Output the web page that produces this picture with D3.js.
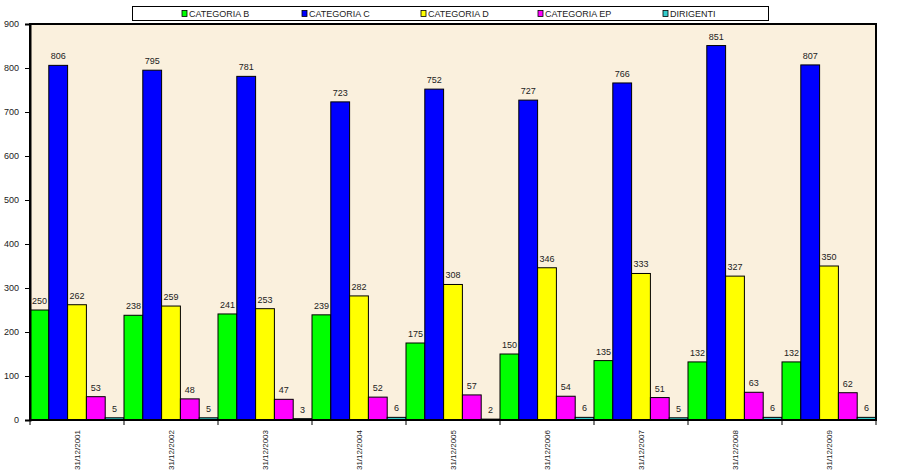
<!DOCTYPE html>
<html><head><meta charset="utf-8">
<script src="https://cdn.jsdelivr.net/npm/d3@7"></script>
<style>body{margin:0;background:#fff}svg{display:block;font-family:"Liberation Sans",Arial,sans-serif}</style>
</head><body><svg id="c" width="898" height="473"></svg>
<script>
const categories = ["31/12/2001","31/12/2002","31/12/2003","31/12/2004","31/12/2005","31/12/2006","31/12/2007","31/12/2008","31/12/2009"];
const seriesNames = ["CATEGORIA B","CATEGORIA C","CATEGORIA D","CATEGORIA EP","DIRIGENTI"];
const catB  = [250,238,241,239,175,150,135,132,132];
const catC  = [806,795,781,723,752,727,766,851,807];
const catD  = [262,259,253,282,308,346,333,327,350];
const catEP = [53,48,47,52,57,54,51,63,62];
const dir   = [5,5,3,6,2,6,5,6,6];
const yTicks = [0,100,200,300,400,500,600,700,800,900];
const colors = ["#00ff00","#0000ff","#ffff00","#ff00ff","#33cccc"];

const values = [catB,catC,catD,catEP,dir];
const svg = d3.select("#c");
const L=30,R=876,T=24,B=420;
const x0 = d3.scaleBand().domain(categories).range([L,R]).paddingInner(0).paddingOuter(0);
const x1 = d3.scaleBand().domain(seriesNames).range([0,x0.bandwidth()]).padding(0);
const y = d3.scaleLinear().domain([0,900]).range([B,T]);

// plot background
svg.append("rect").attr("x",L).attr("y",T).attr("width",R-L).attr("height",B-T).attr("fill","#faf0dd");

// bars
const g = svg.append("g");
categories.forEach((c,i)=>{
  seriesNames.forEach((s,j)=>{
    const v = values[j][i];
    g.append("rect").attr("x",x0(c)+x1(s)).attr("y",y(v)).attr("width",x1.bandwidth()).attr("height",B-y(v))
      .attr("fill",colors[j]).attr("stroke","#000").attr("stroke-width",1);
    g.append("text").attr("x",x0(c)+x1(s)+x1.bandwidth()/2).attr("y",y(v)-6)
      .attr("text-anchor","middle").attr("font-size",9).attr("fill","#222").text(v);
  });
});

// frame
svg.append("rect").attr("x",L).attr("y",T).attr("width",R-L).attr("height",B-T).attr("fill","none").attr("stroke","#000").attr("stroke-width",2);

// y axis
const ya = svg.append("g").attr("transform",`translate(${L},0)`)
  .call(d3.axisLeft(y).tickValues(yTicks).tickSize(5).tickPadding(6));
ya.select(".domain").attr("stroke-width",2);
ya.selectAll("text").attr("font-size",9).attr("fill","#222").attr("font-family","'Liberation Sans',Arial,sans-serif");

// x axis ticks at group boundaries
const xa = svg.append("g");
const bounds = categories.map(c=>x0(c)).concat([R]);
bounds.forEach(bx=>xa.append("line").attr("x1",bx).attr("x2",bx).attr("y1",B).attr("y2",B+5).attr("stroke","#000"));
categories.forEach(c=>{
  const cx = x0(c)+x0.bandwidth()/2;
  xa.append("text").attr("transform",`translate(${cx+3},${B+10}) rotate(-90)`)
    .attr("text-anchor","end").attr("font-size",8).attr("fill","#222").text(c);
});

// legend
const lg = svg.append("g");
lg.append("rect").attr("x",132.5).attr("y",6.5).attr("width",636).attr("height",14).attr("fill","#fff").attr("stroke","#000");
const lx = [182,302,421,538,663];
seriesNames.forEach((s,j)=>{
  lg.append("rect").attr("x",lx[j]).attr("y",10.5).attr("width",5).attr("height",6).attr("fill",colors[j]).attr("stroke","#000").attr("stroke-width",0.8);
  lg.append("text").attr("x",lx[j]+7).attr("y",17).attr("font-size",9).attr("fill","#222").text(s);
});
</script></body></html>
